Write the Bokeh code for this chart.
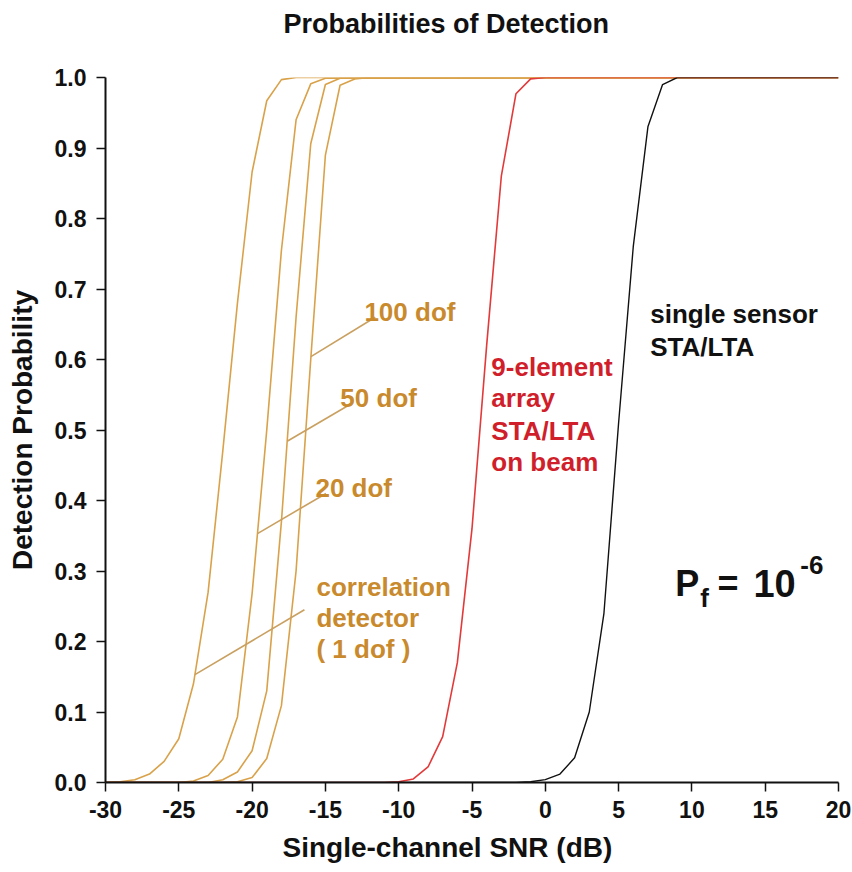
import numpy as np
from bokeh.plotting import figure
from bokeh.models import Range1d, FixedTicker, Label, Title, ColumnDataSource
from bokeh.embed import file_html
from bokeh.resources import INLINE

# ---------------- data ----------------
snr_1dof = [-30, -29, -28, -27, -26, -25, -24, -23, -22, -21, -20, -19, -18, -17, 20]
pd_1dof = [0.0, 0.001, 0.004, 0.012, 0.03, 0.062, 0.14, 0.27, 0.47, 0.68, 0.866, 0.967, 0.997, 1.0, 1.0]

snr_20dof = [-30, -25, -24, -23, -22, -21, -20, -19, -18, -17, -16, -15, 20]
pd_20dof = [0.0, 0.0, 0.002, 0.01, 0.033, 0.093, 0.268, 0.50, 0.755, 0.94, 0.991, 0.999, 1.0]

snr_50dof = [-30, -23, -22, -21, -20, -19, -18, -17, -16, -15, -14, 20]
pd_50dof = [0.0, 0.0, 0.004, 0.015, 0.045, 0.13, 0.37, 0.66, 0.906, 0.99, 0.999, 1.0]

snr_100dof = [-30, -22, -21, -20, -19, -18, -17, -16, -15, -14, -13, -12, 20]
pd_100dof = [0.0, 0.0, 0.001, 0.007, 0.034, 0.109, 0.30, 0.60, 0.89, 0.989, 0.998, 1.0, 1.0]

snr_array = [-30, -11, -10, -9, -8, -7, -6, -5, -4, -3, -2, -1, 0, 20]
pd_array = [0.0, 0.0, 0.001, 0.005, 0.022, 0.065, 0.17, 0.36, 0.62, 0.86, 0.977, 0.998, 1.0, 1.0]

snr_single = [-30, -2, -1, 0, 1, 2, 3, 4, 5, 6, 7, 8, 9, 20]
pd_single = [0.0, 0.0, 0.001, 0.004, 0.012, 0.035, 0.10, 0.24, 0.51, 0.76, 0.93, 0.99, 1.0, 1.0]

x_ticks = [-30, -25, -20, -15, -10, -5, 0, 5, 10, 15, 20]
x_tick_labels = ["-30", "-25", "-20", "-15", "-10", "-5", "0", "5", "10", "15", "20"]
y_ticks = [0.0, 0.1, 0.2, 0.3, 0.4, 0.5, 0.6, 0.7, 0.8, 0.9, 1.0]
y_tick_labels = ["0.0", "0.1", "0.2", "0.3", "0.4", "0.5", "0.6", "0.7", "0.8", "0.9", "1.0"]

# ---------------- styles ----------------
FONT = "Liberation Sans"
GOLD = "#D9A24A"
GOLD_PTR = "#C9A060"
GOLD_TXT = "#C98A2E"
RED = "#E23A3A"
RED_TXT = "#D01F2B"

p = figure(width=852, height=872, x_range=Range1d(-30, 20), y_range=Range1d(0, 1),
           output_backend="svg", toolbar_location=None,
           min_border_left=105, min_border_right=14, min_border_top=77, min_border_bottom=90)
p.outline_line_color = None
p.xgrid.visible = False
p.ygrid.visible = False
p.background_fill_color = "white"
p.border_fill_color = "white"

for ax in (p.xaxis, p.yaxis):
    ax.axis_line_width = 2
    ax.axis_line_color = "#111111"
    ax.major_tick_line_width = 1.5
    ax.major_tick_line_color = "#111111"
    ax.major_tick_out = 9
    ax.major_tick_in = 0
    ax.minor_tick_out = 0
    ax.minor_tick_in = 0
    ax.major_label_text_font = FONT
    ax.major_label_text_font_style = "bold"
    ax.major_label_text_font_size = "23px"
    ax.major_label_text_color = "#111111"
    ax.major_label_standoff = 9
p.yaxis.major_label_standoff = 10

p.xaxis.ticker = FixedTicker(ticks=x_ticks)
p.xaxis.major_label_overrides = {t: s for t, s in zip(x_ticks, x_tick_labels)}
p.yaxis.ticker = FixedTicker(ticks=y_ticks)
p.yaxis.major_label_overrides = {t: s for t, s in zip(y_ticks, y_tick_labels)}

p.yaxis.axis_label = "Detection Probability"
p.yaxis.axis_label_text_font = FONT
p.yaxis.axis_label_text_font_style = "bold"
p.yaxis.axis_label_text_font_size = "28px"
p.yaxis.axis_label_text_color = "#111111"
p.yaxis.axis_label_standoff = 14

# title (second blank line lifts it away from the frame) and x-axis label as titles
p.add_layout(Title(text="Probabilities of Detection\n\u00a0", text_font=FONT, text_font_style="bold",
                   text_font_size="27px", text_color="#111111", align="left", offset=178,
                   vertical_align="top", standoff=13), "above")
p.add_layout(Title(text="Single-channel SNR (dB)", text_font=FONT, text_font_style="bold",
                   text_font_size="28px", text_color="#111111", align="left", offset=177,
                   vertical_align="bottom", standoff=18), "below")

# ---------------- curves ----------------
for xs, ys in [(snr_1dof, pd_1dof), (snr_20dof, pd_20dof), (snr_50dof, pd_50dof), (snr_100dof, pd_100dof)]:
    p.line(xs, ys, line_color=GOLD, line_width=1.6)
p.line(snr_array, pd_array, line_color=RED, line_width=1.6)
p.line(snr_single, pd_single, line_color="#111111", line_width=1.4)

# ---------------- leader lines (curve end found from the data) ----------------
def on_curve(xs, ys, prob):
    xs = np.asarray(xs, float); ys = np.asarray(ys, float)
    i0 = int(np.argmax(ys > 0)) - 1
    i1 = int(np.argmax(ys >= 1.0)) + 1
    return float(np.interp(prob, ys[i0:i1], xs[i0:i1]))

ptr = dict(x0=[], y0=[], x1=[], y1=[])
for xs, ys, prob, lx, ly in [
    (snr_100dof, pd_100dof, 0.604, -11.6, 0.660),
    (snr_50dof, pd_50dof, 0.484, -13.18, 0.538),
    (snr_20dof, pd_20dof, 0.353, -14.96, 0.410),
    (snr_1dof, pd_1dof, 0.153, -16.43, 0.245),
]:
    ptr["x0"].append(on_curve(xs, ys, prob)); ptr["y0"].append(prob)
    ptr["x1"].append(lx); ptr["y1"].append(ly)
p.segment(x0="x0", y0="y0", x1="x1", y1="y1", source=ColumnDataSource(ptr),
          line_color=GOLD_PTR, line_width=1.6)

# ---------------- text ----------------
def lab(x, y, text, size, color="#111111", align="left", angle=0.0):
    p.add_layout(Label(x=x, y=y, text=text, text_font=FONT, text_font_style="bold",
                       text_font_size=size, text_color=color, text_align=align,
                       text_baseline="alphabetic", angle=angle))

lab(-12.34, 0.667, "100 dof", "26px", GOLD_TXT)
lab(-13.98, 0.546, "50 dof", "26px", GOLD_TXT)
lab(-15.68, 0.418, "20 dof", "26px", GOLD_TXT)
for yy, t in zip([0.278, 0.234, 0.189], ["correlation", "detector", "( 1 dof )"]):
    lab(-15.61, yy, t, "26px", GOLD_TXT)
for yy, t in zip([0.589, 0.545, 0.499, 0.455], ["9-element", "array", "STA/LTA", "on beam"]):
    lab(-3.68, yy, t, "26px", RED_TXT)
for yy, t in zip([0.664, 0.618], ["single sensor", "STA/LTA"]):
    lab(7.16, yy, t, "26px")

lab(8.86, 0.282, "P", "36px")
lab(10.57, 0.262, "f", "26px")
lab(11.75, 0.282, "=", "36px")
lab(14.2, 0.282, "10", "38px")
lab(17.39, 0.308, "-6", "26px")

open("out.html", "w").write(file_html(p, INLINE))
